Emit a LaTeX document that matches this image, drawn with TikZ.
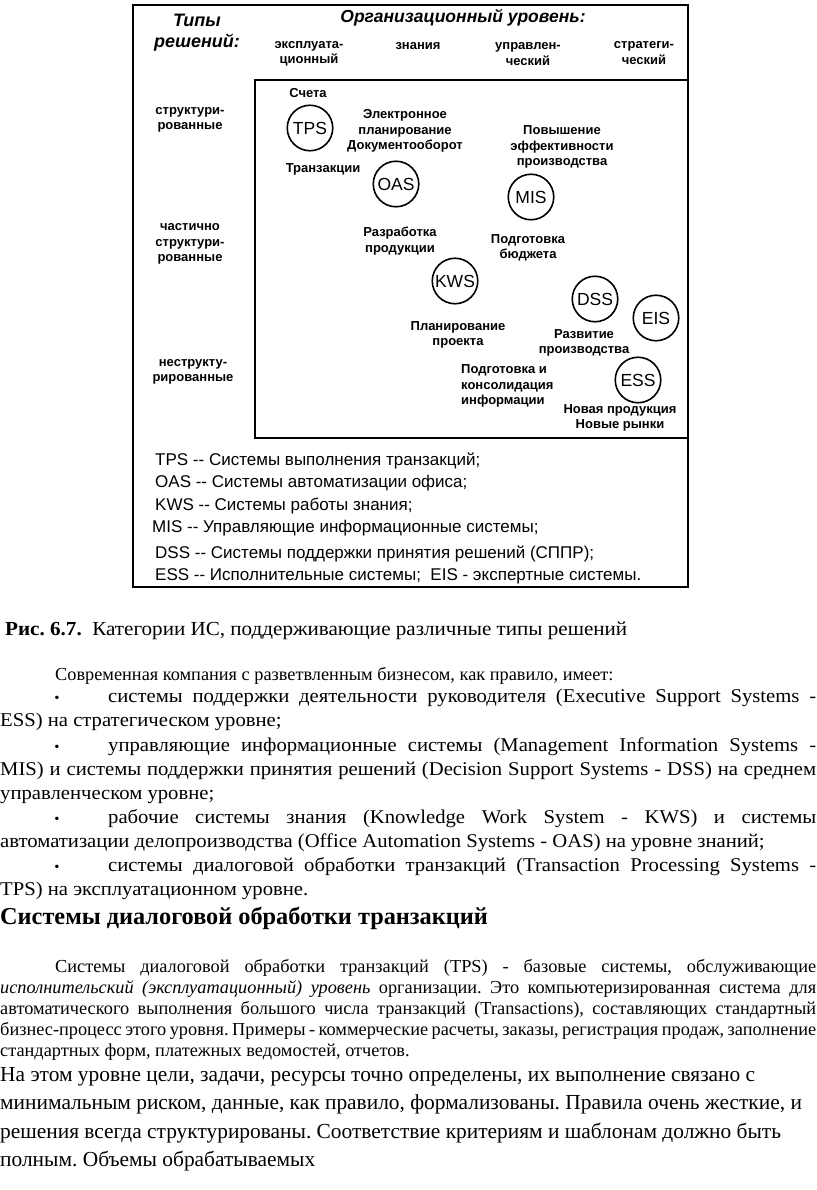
\documentclass[tikz,border=0pt]{standalone}
\usepackage{fontspec}
\setmainfont{Liberation Serif}
\newfontfamily\arialf{Liberation Sans}
\newfontfamily\bodyA[FakeStretch=1.06]{Liberation Serif}
\newfontfamily\bodyB[FakeStretch=1.0]{Liberation Serif}
\frenchspacing
\tikzset{
  lab/.style={font=\arialf\bfseries\fontsize{13}{15.5}\selectfont, align=center, inner sep=0pt},
  head/.style={font=\arialf\bfseries\itshape\fontsize{17.5}{21}\selectfont, align=center, inner sep=0pt},
  sys/.style={circle, draw, line width=1.6pt, minimum size=45.5pt, inner sep=0pt, font=\arialf\fontsize{17.5}{20}\selectfont},
  leg/.style={font=\arialf\fontsize{17}{20}\selectfont, anchor=base west, inner sep=0pt},
  frame/.style={draw, line width=1.4pt},
  txt/.style={anchor=base west, inner sep=0pt, font=\bodyA\fontsize{19.5}{24}\selectfont},
  ptxt/.style={anchor=base west, inner sep=0pt, font=\bodyB\fontsize{18.3}{21}\selectfont},
  ltxt/.style={anchor=base west, inner sep=0pt, font=\bodyB\fontsize{21.4}{28}\selectfont},
  bul/.style={anchor=base, inner sep=0pt, font=\bodyA\fontsize{14}{16}\selectfont}
}
\begin{document}
\begin{tikzpicture}[x=1pt,y=-1pt]
\path[use as bounding box, fill=white] (0,0) rectangle (816,1190);
% frames
\draw[frame] (133,5) rectangle (688,587);
\draw[frame] (688,80) -- (255,80) -- (255,438) -- (688,438);
% headings
\node[head, font=\arialf\bfseries\itshape\fontsize{18}{21}\selectfont] (tipy) at (197,32.5) {Типы\\решений:};
\node[head] (org) at (463,18) {Организационный уровень:};
\node[lab] (c1) at (309,54) {эксплуата-\\ционный};
\node[lab] (c2) at (418,46) {знания};
\node[lab] (c3) at (528,54) {управлен-\\ческий};
\node[lab] (c4) at (644,53) {стратеги-\\ческий};
\node[lab] (r1) at (190,120) {структури-\\рованные};
\node[lab] (r2) at (190,244) {частично\\структури-\\рованные};
\node[lab] (r3) at (193,372) {неструкту-\\рированные};
% systems
\node[sys] (tps) at (310,128) {TPS};
\node[sys] (oas) at (396,184) {OAS};
\node[sys] (mis) at (531,197) {MIS};
\node[sys] (kws) at (455,281) {KWS};
\node[sys] (dss) at (595,299) {DSS};
\node[sys] (eis) at (656,318) {EIS};
\node[sys] (ess) at (638,380) {ESS};
% labels
\node[lab] (l1) at (308,93) {Счета};
\node[lab] (l2) at (405,131) {Электронное\\планирование\\Документооборот};
\node[lab] (l3) at (323,169) {Транзакции};
\node[lab] (l4) at (562,147) {Повышение\\эффективности\\производства};
\node[lab] (l5) at (400,241) {Разработка\\продукции};
\node[lab] (l6) at (528,248) {Подготовка\\бюджета};
\node[lab] (l7) at (458,335) {Планирование\\проекта};
\node[lab] (l8) at (584,343) {Развитие\\производства};
\node[lab, align=left, anchor=west] (l9) at (461,386) {Подготовка и\\консолидация\\информации};
\node[lab] (l10) at (620,418) {Новая продукция\\Новые рынки};
% legend
\node[leg] (g1) at (155,465) {TPS {-}{-} Системы выполнения транзакций;};
\node[leg] (g2) at (155,487) {OAS {-}{-} Системы автоматизации офиса;};
\node[leg] (g3) at (155,510) {KWS {-}{-} Системы работы знания;};
\node[leg] (g4) at (152,532) {MIS {-}{-} Управляющие информационные системы;};
\node[leg] (g5) at (155,558) {DSS {-}{-} Системы поддержки принятия решений (СППР);};
\node[leg] (g6) at (155,580) {ESS {-}{-} Исполнительные системы;\ \ EIS - экспертные системы.};
% caption
\node[txt, font=\bodyA\fontsize{19.9}{24}\selectfont] (cap) at (5,635) {\textbf{Рис. 6.7.}\ \ Категории ИС, поддерживающие различные типы решений};
\node[ptxt] (intro) at (55,680) {Современная компания с разветвленным бизнесом, как правило, имеет:};
% bullets
\node[bul] (d1) at (57,702) {•};
\node[txt] (b1a) at (108,702) {\makebox[708pt][s]{системы поддержки деятельности руководителя (Executive Support Systems -}};
\node[txt] (b1b) at (0,726) {ESS) на стратегическом уровне;};
\node[bul] (d2) at (57,751) {•};
\node[txt] (b2a) at (108,751) {\makebox[708pt][s]{управляющие информационные системы (Management Information Systems -}};
\node[txt] (b2b) at (0,775) {\makebox[816pt][s]{MIS) и системы поддержки принятия решений (Decision Support Systems - DSS) на среднем}};
\node[txt] (b2c) at (0,799) {управленческом уровне;};
\node[bul] (d3) at (57,823) {•};
\node[txt] (b3a) at (108,823) {\makebox[708pt][s]{рабочие системы знания (Knowledge Work System - KWS) и системы}};
\node[txt] (b3b) at (0,847) {автоматизации делопроизводства (Office Automation Systems - OAS) на уровне знаний;};
\node[bul] (d4) at (57,871) {•};
\node[txt] (b4a) at (108,871) {\makebox[708pt][s]{системы диалоговой обработки транзакций (Transaction Processing Systems -}};
\node[txt] (b4b) at (0,895) {TPS) на эксплуатационном уровне.};
% heading
\node[txt, font=\bodyB\bfseries\fontsize{24.3}{28}\selectfont] (h) at (0,924) {Системы диалоговой обработки транзакций};
% paragraph
\node[ptxt] (p1) at (55,972) {\makebox[761pt][s]{Системы диалоговой обработки транзакций (TPS) - базовые системы, обслуживающие}};
\node[ptxt] (p2) at (0,993) {\makebox[816pt][s]{\textit{исполнительский (эксплуатационный) уровень} организации. Это компьютеризированная система для}};
\node[ptxt] (p3) at (0,1014) {\makebox[816pt][s]{автоматического выполнения большого числа транзакций (Transactions), составляющих стандартный}};
\node[ptxt] (p4) at (0,1035) {\makebox[816pt][s]{бизнес-процесс этого уровня. Примеры - коммерческие расчеты, заказы, регистрация продаж, заполнение}};
\node[ptxt] (p5) at (0,1056) {стандартных форм, платежных ведомостей, отчетов.};
% last paragraph
\node[ltxt] (q1) at (0,1081) {На этом уровне цели, задачи, ресурсы точно определены, их выполнение связано с};
\node[ltxt] (q2) at (0,1109) {минимальным риском, данные, как правило, формализованы. Правила очень жесткие, и};
\node[ltxt] (q3) at (0,1138) {решения всегда структурированы. Соответствие критериям и шаблонам должно быть};
\node[ltxt] (q4) at (0,1166) {полным. Объемы обрабатываемых};
\end{tikzpicture}
\end{document}
